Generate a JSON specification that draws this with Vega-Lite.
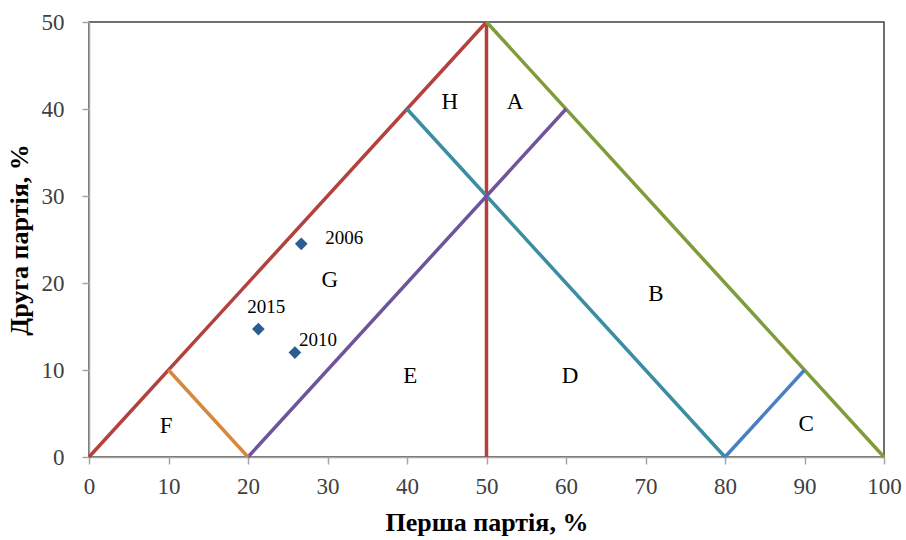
{
  "$schema": "https://vega.github.io/schema/vega-lite/v6.json",
  "width": 795,
  "height": 435,
  "autosize": "none",
  "padding": {"left": 89, "top": 22, "right": 22, "bottom": 83},
  "background": "white",
  "datasets": {
    "segments": [
      {"seg": "red1", "x": 0, "y": 0, "x2": 50, "y2": 50},
      {"seg": "red2", "x": 50, "y": 0, "x2": 50, "y2": 50},
      {"seg": "green", "x": 50, "y": 50, "x2": 100, "y2": 0},
      {"seg": "teal", "x": 40, "y": 40, "x2": 80, "y2": 0},
      {"seg": "purple", "x": 20, "y": 0, "x2": 60, "y2": 40},
      {"seg": "orange", "x": 10, "y": 10, "x2": 20, "y2": 0},
      {"seg": "blue", "x": 80, "y": 0, "x2": 90, "y2": 10}
    ],
    "years": [
      {"year": "2006", "first": 26.7, "second": 24.5},
      {"year": "2015", "first": 21.3, "second": 14.7},
      {"year": "2010", "first": 25.9, "second": 12.0}
    ],
    "regions": [
      {"label": "H", "x": 45.4, "y": 40.8},
      {"label": "A", "x": 53.6, "y": 40.8},
      {"label": "G", "x": 30.3, "y": 20.4},
      {"label": "B", "x": 71.3, "y": 18.7},
      {"label": "E", "x": 40.4, "y": 9.3},
      {"label": "D", "x": 60.5, "y": 9.3},
      {"label": "F", "x": 9.7, "y": 3.6},
      {"label": "C", "x": 90.2, "y": 3.8}
    ]
  },
  "layer": [
    {
      "data": {"name": "segments"},
      "mark": {"type": "rule", "strokeWidth": 3.5},
      "encoding": {
        "x": {
          "field": "x",
          "type": "quantitative",
          "scale": {"domain": [0, 100], "nice": false},
          "axis": {
            "title": "Перша партія, %",
            "values": [0, 10, 20, 30, 40, 50, 60, 70, 80, 90, 100],
            "grid": false,
            "tickSize": 7,
            "labelFlush": false,
            "labelOverlap": false,
            "labelPadding": 11,
            "titlePadding": 11
          }
        },
        "y": {
          "field": "y",
          "type": "quantitative",
          "scale": {"domain": [0, 50], "nice": false},
          "axis": {
            "title": "Друга партія, %",
            "values": [0, 10, 20, 30, 40, 50],
            "grid": false,
            "tickSize": 7,
            "labelFlush": false,
            "labelOverlap": false,
            "labelPadding": 18,
            "titlePadding": 9
          }
        },
        "x2": {"field": "x2"},
        "y2": {"field": "y2"},
        "color": {
          "field": "seg",
          "type": "nominal",
          "scale": {
            "domain": ["red1", "red2", "green", "teal", "purple", "orange", "blue"],
            "range": ["#B3413D", "#B3413D", "#7E9C3A", "#3B8DA1", "#6E549A", "#D6883F", "#4A80C2"]
          },
          "legend": null
        }
      }
    },
    {
      "data": {"name": "years"},
      "mark": {"type": "point", "shape": "diamond", "filled": true, "size": 160, "color": "#2B5C92", "opacity": 1},
      "encoding": {
        "x": {"field": "first", "type": "quantitative"},
        "y": {"field": "second", "type": "quantitative"}
      }
    },
    {
      "data": {"name": "years"},
      "transform": [{"filter": "datum.year == '2006'"}],
      "mark": {"type": "text", "font": "Liberation Serif", "fontSize": 19, "align": "left", "baseline": "middle", "dx": 24, "dy": -6, "color": "black"},
      "encoding": {
        "x": {"field": "first", "type": "quantitative"},
        "y": {"field": "second", "type": "quantitative"},
        "text": {"field": "year"}
      }
    },
    {
      "data": {"name": "years"},
      "transform": [{"filter": "datum.year == '2015'"}],
      "mark": {"type": "text", "font": "Liberation Serif", "fontSize": 19, "align": "center", "baseline": "middle", "dx": 8, "dy": -22, "color": "black"},
      "encoding": {
        "x": {"field": "first", "type": "quantitative"},
        "y": {"field": "second", "type": "quantitative"},
        "text": {"field": "year"}
      }
    },
    {
      "data": {"name": "years"},
      "transform": [{"filter": "datum.year == '2010'"}],
      "mark": {"type": "text", "font": "Liberation Serif", "fontSize": 19, "align": "left", "baseline": "middle", "dx": 4, "dy": -13, "color": "black"},
      "encoding": {
        "x": {"field": "first", "type": "quantitative"},
        "y": {"field": "second", "type": "quantitative"},
        "text": {"field": "year"}
      }
    },
    {
      "data": {"name": "regions"},
      "mark": {"type": "text", "font": "Liberation Serif", "fontSize": 23, "align": "center", "baseline": "middle", "color": "black"},
      "encoding": {
        "x": {"field": "x", "type": "quantitative"},
        "y": {"field": "y", "type": "quantitative"},
        "text": {"field": "label"}
      }
    }
  ],
  "config": {
    "view": {"stroke": "#404040", "strokeWidth": 1.5},
    "axis": {
      "domainColor": "#A6A6A6",
      "domainWidth": 1.5,
      "tickColor": "#A6A6A6",
      "tickWidth": 1.5,
      "labelFont": "Liberation Serif",
      "labelFontSize": 23,
      "labelColor": "#404040",
      "titleFont": "Liberation Serif",
      "titleFontSize": 26,
      "titleFontWeight": "bold",
      "titleColor": "black"
    }
  }
}
